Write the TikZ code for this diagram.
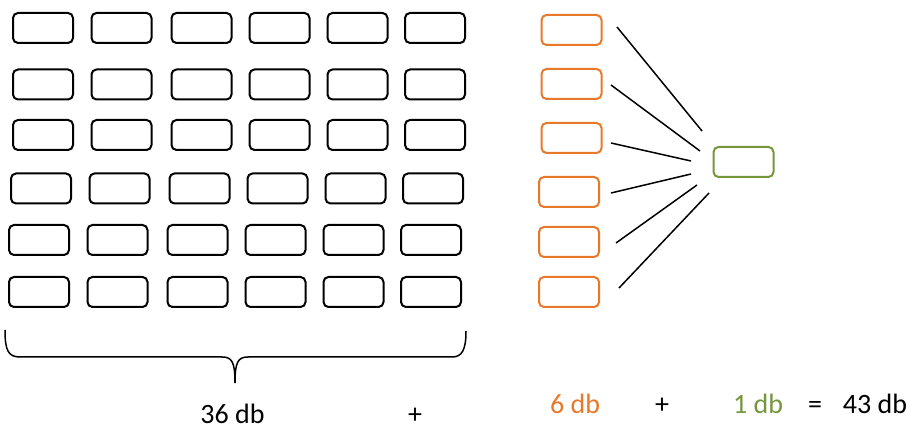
\documentclass[tikz,border=0pt]{standalone}
\usepackage{fontspec}
\setmainfont{Carlito}
\usepackage{tikz}

\definecolor{boxorange}{HTML}{E8782A}
\definecolor{boxgreen}{HTML}{76963E}

\tikzset{
  cell/.style={draw, rounded corners=5pt, line width=2pt, minimum width=60pt, minimum height=30pt, inner sep=0pt},
  ocell/.style={cell, draw=boxorange},
  gcell/.style={cell, draw=boxgreen},
  link/.style={line width=1.5pt},
  sumtext/.style={anchor=base, inner sep=0pt, font=\fontsize{28}{34}\selectfont}
}

\begin{document}
\begin{tikzpicture}[x=1pt,y=-1pt]
\useasboundingbox (0,0) rectangle (910,427);
% 6 x 6 grid
\foreach \r/\y/\dx in {1/28/0, 2/84.5/0, 3/135/0, 4/188.5/-2, 5/240/-4, 6/292/-4}
  \foreach \c/\x in {1/43, 2/121.5, 3/201.5, 4/279.5, 5/357.5, 6/435}
    \node[cell] (b-\r-\c) at (\x+\dx,\y) {};
%
\draw[line width=1.5pt] (5,330) .. controls (5,350) and (8,357) .. (20,357) -- (222,357)
  .. controls (232,357) and (235,362) .. (235,383);
\draw[line width=1.5pt] (235,383) .. controls (235,362) and (238,357) .. (248,357) -- (452,357)
  .. controls (462,357) and (466,350) .. (466,331);
%
\node[ocell] (o1) at (571.5,30) {};
\node[ocell] (o2) at (571.5,84) {};
\node[ocell] (o3) at (571.5,138) {};
\node[ocell] (o4) at (569,192) {};
\node[ocell] (o5) at (569,242) {};
\node[ocell] (o6) at (569,292) {};
\node[gcell] (g) at (743.5,162) {};
%
\coordinate (s1) at (617,27);  \coordinate (t1) at (702,131);
\coordinate (s2) at (611,85);  \coordinate (t2) at (700,151);
\coordinate (s3) at (611,143); \coordinate (t3) at (691,161);
\coordinate (s4) at (611,193); \coordinate (t4) at (691,174);
\coordinate (s5) at (616,243); \coordinate (t5) at (697,185);
\coordinate (s6) at (619,288); \coordinate (t6) at (709,193);
\foreach \i in {1,...,6}
  \draw[link] (s\i) -- (t\i);
%
\node[sumtext] (n36) at (232.5,423) {36 db};
\node[sumtext] (p1) at (415,423) {+};
\node[sumtext, text=boxorange] (n6) at (575,413) {6 db};
\node[sumtext] (p2) at (662,413) {+};
\node[sumtext, text=boxgreen] (n1) at (758,413) {1 db};
\node[sumtext] (eq) at (815,413) {=};
\node[sumtext] (n43) at (875,413) {43 db};
\end{tikzpicture}
\end{document}
